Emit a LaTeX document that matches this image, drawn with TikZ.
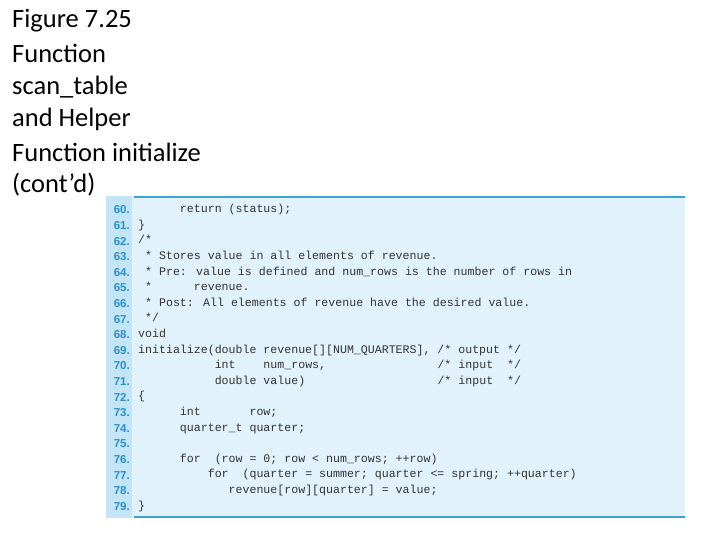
\documentclass[tikz,border=0pt]{standalone}
\usepackage{fontspec}
\setmainfont{Carlito}
\newfontfamily\codefont{Liberation Mono}
\newfontfamily\numfont{Liberation Sans}
\definecolor{panel}{HTML}{E1F2FB}
\definecolor{strip}{HTML}{C3E5F6}
\definecolor{numc}{HTML}{2E8FCB}
\definecolor{rule}{HTML}{3BA3D6}
\definecolor{codec}{HTML}{333333}
\begin{document}
\begin{tikzpicture}[x=1pt,y=-1pt,
  title/.style={anchor=west,font=\fontsize{26.5}{30}\selectfont,inner sep=0},
  num/.style={anchor=east,font=\numfont\bfseries\fontsize{11.5}{13}\selectfont,text=numc,inner sep=0},
  code/.style={anchor=west,font=\codefont\fontsize{11.6}{13}\selectfont,text=codec,inner sep=0}]
\useasboundingbox (0,0) rectangle (720,540);
\fill[panel] (106,196) rectangle (685,518);
\fill[strip] (106,196) rectangle (132,518);
\draw[rule,line width=1.5pt] (134,197) -- (685,197);
\draw[rule,line width=1.5pt] (134,517) -- (685,517);
\foreach \t [count=\i] in {Figure 7.25,Function,scan\_table,and Helper,Function initialize,(cont’d)}
  \node[title] (t\i) at (12,{21+32.8*(\i-1)}) {\t};
\foreach \n [count=\i from 0] in {60,...,79}
  \node[num] (n\n) at (130,{210+15.6*\i}) {\n.};
\foreach \c [count=\i from 0] in {
{\ \ \ \ \ \ return (status);},
{\}},
{/*},
{\ * Stores value in all elements of revenue.},
{\ * Pre: value is defined and num\_rows is the number of rows in},
{\ *\ \ \ \ \ \ revenue.},
{\ * Post: All elements of revenue have the desired value.},
{\ */},
{void},
{initialize(double revenue[][NUM\_QUARTERS], /* output */},
{\ \ \ \ \ \ \ \ \ \ \ int\ \ \ \ num\_rows,\ \ \ \ \ \ \ \ \ \ \ \ \ \ \ \ /* input\ \ */},
{\ \ \ \ \ \ \ \ \ \ \ double value)\ \ \ \ \ \ \ \ \ \ \ \ \ \ \ \ \ \ \ /* input\ \ */},
{\{},
{\ \ \ \ \ \ int\ \ \ \ \ \ \ row;},
{\ \ \ \ \ \ quarter\_t quarter;},
{},
{\ \ \ \ \ \ for\ \ (row = 0; row < num\_rows; ++row)},
{\ \ \ \ \ \ \ \ \ \ for\ \ (quarter = summer; quarter <= spring; ++quarter)},
{\ \ \ \ \ \ \ \ \ \ \ \ \ revenue[row][quarter] = value;},
{\}}}
  \node[code] (c\i) at (138,{210+15.6*\i}) {\strut\c};
\end{tikzpicture}
\end{document}
